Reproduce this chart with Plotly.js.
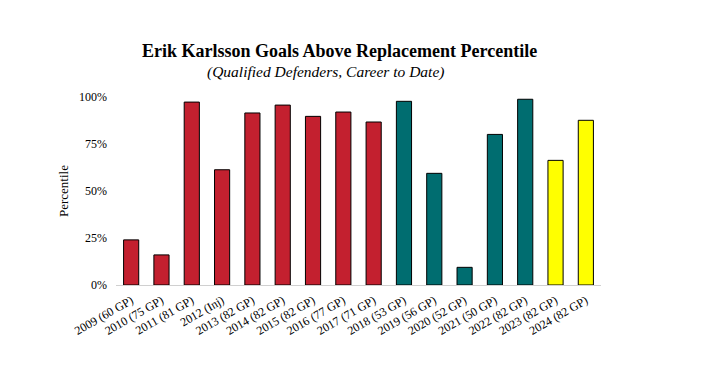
<!DOCTYPE html>
<html><head><meta charset="utf-8">
<script src="https://cdn.plot.ly/plotly-3.0.1.min.js"></script>
<style>html,body{margin:0;padding:0;background:#fff}#chart{width:705px;height:379px}</style>
</head><body><div id="chart"></div>
<script>
const categories = ["2009 (60 GP)","2010 (75 GP)","2011 (81 GP)","2012 (Inj)","2013 (82 GP)","2014 (82 GP)","2015 (82 GP)","2016 (77 GP)","2017 (71 GP)","2018 (53 GP)","2019 (56 GP)","2020 (52 GP)","2021 (50 GP)","2022 (82 GP)","2023 (82 GP)","2024 (82 GP)"];
const percentiles = [0.24,0.16,0.973,0.613,0.915,0.957,0.897,0.92,0.867,0.977,0.594,0.094,0.801,0.988,0.663,0.876];
const teams = ["OTT","OTT","OTT","OTT","OTT","OTT","OTT","OTT","OTT","SJS","SJS","SJS","SJS","SJS","PIT","PIT"];
const teamColors = {OTT:"#C3202F", SJS:"#006D70", PIT:"#FFFF00"};
const yTicks = [0,0.25,0.5,0.75,1];
const yTickText = ["0%","25%","50%","75%","100%"];

const font = "'Liberation Serif', 'DejaVu Serif', serif";
const trace = {
  type:"bar", x:categories, y:percentiles,
  marker:{color:teams.map(t=>teamColors[t]), line:{color:"#000", width:1}},
  hoverinfo:"x+y"
};
const layout = {
  width:705, height:379,
  margin:{l:116, r:104, t:97, b:94},
  paper_bgcolor:"#fff", plot_bgcolor:"#fff",
  font:{family:font, color:"#000", size:12},
  bargap:0.5,
  showlegend:false,
  xaxis:{range:[-0.5,15.5], tickangle:-30, showgrid:false, showline:true, linecolor:"#d0d0d0", linewidth:1, ticks:"", ticklabelstandoff:3, tickfont:{size:12, family:font}, zeroline:false},
  yaxis:{range:[0,1], tickvals:yTicks, ticktext:yTickText, showgrid:false, showline:false, zeroline:false, ticks:"", ticklabelstandoff:8, tickfont:{size:12, family:font}, title:{text:"Percentile", font:{size:13, family:font}, standoff:7}},
  annotations:[
    {text:"<b>Erik Karlsson Goals Above Replacement Percentile</b>", xref:"paper", yref:"paper", x:0.46, y:1.245, xanchor:"center", yanchor:"middle", showarrow:false, font:{size:18, family:font}},
    {text:"<i>(Qualified Defenders, Career to Date)</i>", xref:"paper", yref:"paper", x:0.431, y:1.133, xanchor:"center", yanchor:"middle", showarrow:false, font:{size:15.5, family:font}}
  ]
};
Plotly.newPlot("chart",[trace],layout,{displayModeBar:false, staticPlot:true});
</script></body></html>
